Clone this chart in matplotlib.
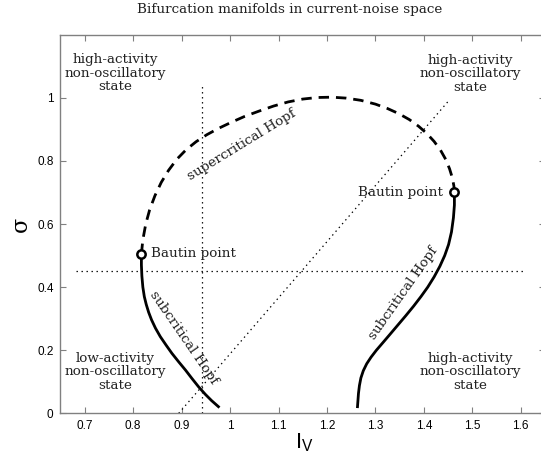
import matplotlib
matplotlib.use("Agg")
import matplotlib.pyplot as plt

# Supercritical Hopf branch (dashed), from left Bautin point over the top to right Bautin point
super_I = [0.817, 0.820, 0.826, 0.834, 0.845, 0.858, 0.873, 0.890, 0.909, 0.930,
           0.952, 0.976, 1.002, 1.030, 1.060, 1.090, 1.120, 1.150, 1.180, 1.210,
           1.240, 1.270, 1.300, 1.325, 1.348, 1.370, 1.389, 1.406, 1.421, 1.434,
           1.445, 1.453, 1.459, 1.462, 1.463]
super_s = [0.505, 0.550, 0.600, 0.645, 0.690, 0.732, 0.770, 0.805, 0.835, 0.861,
           0.883, 0.903, 0.922, 0.941, 0.958, 0.974, 0.987, 0.996, 1.001, 1.002,
           0.999, 0.992, 0.980, 0.966, 0.950, 0.931, 0.910, 0.887, 0.862, 0.835,
           0.805, 0.775, 0.745, 0.720, 0.700]

# Subcritical Hopf branches (solid)
subL_I = [0.817, 0.817, 0.818, 0.820, 0.823, 0.827, 0.832, 0.838, 0.846, 0.856,
          0.868, 0.880, 0.894, 0.908, 0.921, 0.935, 0.949, 0.962, 0.976]
subL_s = [0.505, 0.470, 0.435, 0.400, 0.370, 0.345, 0.320, 0.296, 0.270, 0.243,
          0.216, 0.190, 0.163, 0.137, 0.111, 0.084, 0.060, 0.040, 0.021]

subR_I = [1.463, 1.463, 1.461, 1.457, 1.451, 1.443, 1.433, 1.421, 1.408, 1.394,
          1.379, 1.363, 1.347, 1.331, 1.316, 1.302, 1.291, 1.282, 1.275, 1.270,
          1.267, 1.265, 1.264, 1.263]
subR_s = [0.700, 0.660, 0.620, 0.575, 0.535, 0.500, 0.466, 0.432, 0.400, 0.370,
          0.340, 0.310, 0.281, 0.252, 0.225, 0.200, 0.178, 0.157, 0.135, 0.112,
          0.088, 0.063, 0.042, 0.021]

# Bautin points
bautin_I = [0.817, 1.463]
bautin_s = [0.505, 0.700]

# Dotted reference lines
vline_I = [0.942, 0.942]
vline_s = [0.0, 1.04]
hline_I = [0.681, 1.609]
hline_s = [0.452, 0.452]
diag_I = [0.894, 1.452]
diag_s = [0.0, 0.992]

xticks = [0.7, 0.8, 0.9, 1.0, 1.1, 1.2, 1.3, 1.4, 1.5, 1.6]
xticklabels = ["0.7", "0.8", "0.9", "1", "1.1", "1.2", "1.3", "1.4", "1.5", "1.6"]
yticks = [0.0, 0.2, 0.4, 0.6, 0.8, 1.0]
yticklabels = ["0", "0.2", "0.4", "0.6", "0.8", "1"]

plt.rcParams["lines.scale_dashes"] = False
plt.rcParams["mathtext.fontset"] = "custom"
plt.rcParams["mathtext.rm"] = "Liberation Sans"
plt.rcParams["mathtext.it"] = "Liberation Sans"

serif = "DejaVu Serif"
sans = "Liberation Sans"
tsize = 9.7

fig = plt.figure(figsize=(5.41, 4.58), dpi=100)
ax = fig.add_axes([0.1118, 0.0976, 0.8956, 0.8266])

dot = (0, (1, 2.6))
ax.plot(vline_I, vline_s, color="black", lw=0.9, linestyle=dot)
ax.plot(hline_I, hline_s, color="black", lw=0.9, linestyle=dot)
ax.plot(diag_I, diag_s, color="black", lw=0.9, linestyle=dot)

ax.plot(super_I, super_s, color="black", lw=2.0, linestyle=(0, (7.5, 5)),
        dash_capstyle="butt", dash_joinstyle="round")
ax.plot(subL_I, subL_s, color="black", lw=2.0, solid_joinstyle="round")
ax.plot(subR_I, subR_s, color="black", lw=2.0, solid_joinstyle="round")
ax.plot(bautin_I, bautin_s, linestyle="none", marker="o", markersize=6,
        markerfacecolor="white", markeredgecolor="black", markeredgewidth=1.8,
        zorder=5)

ax.set_xlim(0.65, 1.65)
ax.set_ylim(0.0, 1.2)
ax.set_xticks(xticks)
ax.set_xticklabels(xticklabels, fontfamily=sans, fontsize=8.5)
ax.set_yticks(yticks)
ax.set_yticklabels(yticklabels, fontfamily=sans, fontsize=8.5)
ax.tick_params(direction="in", length=4, width=0.8, color="#808080",
               top=True, right=True, pad=5)
for sp in ax.spines.values():
    sp.set_color("#808080")
    sp.set_linewidth(1.0)

# Region labels
region = "high-activity\nnon-oscillatory\nstate"
low_region = "low-activity\nnon-oscillatory\nstate"
kw = dict(fontfamily=serif, fontsize=tsize, ha="center", va="center",
          linespacing=1.05, color="#222222")
ax.text(0.763, 1.078, region, **kw)
ax.text(1.496, 1.077, region, **kw)
ax.text(0.763, 0.132, low_region, **kw)
ax.text(1.496, 0.132, region, **kw)

ax.text(0.837, 0.508, "Bautin point", fontfamily=serif, fontsize=tsize,
        ha="left", va="center", color="#222222")
ax.text(1.440, 0.700, "Bautin point", fontfamily=serif, fontsize=tsize,
        ha="right", va="center", color="#222222")

ax.text(1.025, 0.852, "supercritical Hopf", fontfamily=serif, fontsize=tsize,
        rotation=31.5, ha="center", va="center", rotation_mode="anchor",
        color="#222222")
ax.text(0.904, 0.241, "subcritical Hopf", fontfamily=serif, fontsize=tsize,
        rotation=-55.4, ha="center", va="center", rotation_mode="anchor",
        color="#222222")
ax.text(1.358, 0.381, "subcritical Hopf", fontfamily=serif, fontsize=tsize,
        rotation=54.9, ha="center", va="center", rotation_mode="anchor",
        color="#222222")

# Axis labels
fig.text(0.562, 0.022, r"$\mathrm{I_V}$", fontsize=16, ha="center",
         va="baseline")
ax.set_ylabel("σ", fontfamily=serif, fontsize=16, labelpad=4)

fig.text(0.535, 0.980, "Bifurcation manifolds in current-noise space",
         fontfamily=serif, fontsize=tsize, ha="center", va="center",
         color="#222222")

fig.savefig("out.png", dpi=100)
